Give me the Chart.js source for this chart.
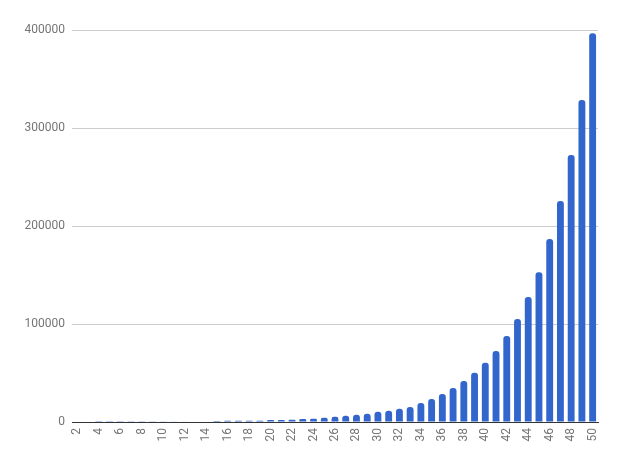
<!DOCTYPE html>
<html>
<head>
<meta charset="utf-8">
<script src="https://cdn.jsdelivr.net/npm/chart.js@4"></script>
<style>
  html, body { margin: 0; padding: 0; background: #fff; }
  #wrap { width: 622px; height: 466px; }
</style>
</head>
<body>
<div id="wrap"><canvas id="myChart" width="622" height="466"></canvas></div>
<script>
const labels = [
    '2', '3', '4', '5', '6', '7', '8', '9', '10', '11',
    '12', '13', '14', '15', '16', '17', '18', '19', '20', '21',
    '22', '23', '24', '25', '26', '27', '28', '29', '30', '31',
    '32', '33', '34', '35', '36', '37', '38', '39', '40', '41',
    '42', '43', '44', '45', '46', '47', '48', '49', '50'
];

const values = [
    0, 0, 150, 180, 210, 250, 290, 330, 380, 420,
    470, 520, 580, 1100, 1150, 1200, 1250, 1300, 2000, 2100,
    2200, 3000, 3300, 4300, 5300, 6300, 7300, 8400, 10400, 11500,
    13500, 15300, 19400, 23500, 28600, 34700, 41800, 50300, 60500, 72400,
    87800, 105100, 127500, 152700, 186700, 225500, 272400, 328600, 396600
];

const yTicks = [0, 100000, 200000, 300000, 400000];

const tickFont = { family: 'Roboto', size: 12 };
const tickColor = '#757575';

const data = {
    labels: labels,
    datasets: [
        {
            data: values,
            backgroundColor: '#3366cc',
            borderRadius: { topLeft: 3, topRight: 3 },
            borderSkipped: 'start',
            categoryPercentage: 1,
            barPercentage: 0.64
        }
    ]
};

const config = {
    type: 'bar',
    data: data,
    options: {
        responsive: false,
        animation: false,
        layout: {
            padding: { top: 30, right: 24, bottom: 0, left: 0 }
        },
        scales: {
            x: {
                grid: { display: false, drawTicks: false },
                border: { display: true, color: '#333333', width: 1 },
                ticks: {
                    autoSkip: false,
                    minRotation: 90,
                    maxRotation: 90,
                    padding: 6,
                    color: tickColor,
                    font: tickFont,
                    // only every other category gets a label
                    callback: (val, i) => (i % 2 === 0 ? labels[i] : '')
                },
                afterFit: (scale) => { scale.height = 44; }
            },
            y: {
                min: yTicks[0],
                max: yTicks[yTicks.length - 1],
                grid: { color: '#cccccc', drawTicks: false },
                border: { display: false },
                ticks: {
                    stepSize: yTicks[1] - yTicks[0],
                    padding: 7,
                    color: tickColor,
                    font: tickFont,
                    callback: (v) => String(v)
                },
                afterFit: (scale) => { scale.width = 72; }
            }
        },
        plugins: {
            legend: { display: false },
            tooltip: { enabled: false }
        }
    }
};

const myChart = new Chart(
    document.getElementById('myChart'),
    config
);
</script>
</body>
</html>
